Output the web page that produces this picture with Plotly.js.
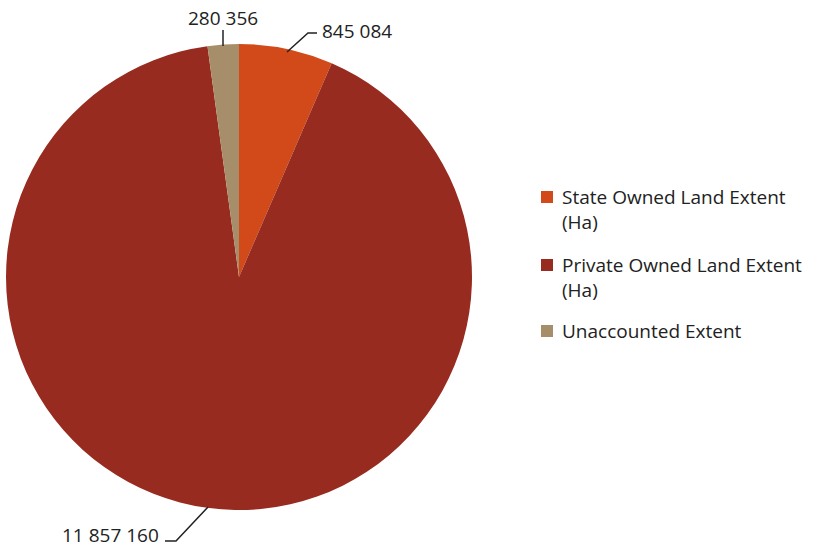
<!DOCTYPE html>
<html>
<head>
<meta charset="utf-8">
<script src="https://cdn.plot.ly/plotly-3.0.1.min.js"></script>
<style>html,body{margin:0;padding:0;background:#fff;}#chart{width:817px;height:547px;}</style>
</head>
<body>
<div id="chart"></div>
<script>
var categories = ["State Owned Land Extent<br>(Ha)", "Private Owned Land Extent<br>(Ha)", "Unaccounted Extent"];
var values = [845084, 11857160, 280356];
var colors = ["#D24A1A", "#982B1F", "#A78E6B"];

function fmt(v) {
  return String(v).replace(/\B(?=(\d{3})+(?!\d))/g, " ");
}

var W = 817, H = 547;
function px(x) { return x / W; }
function py(y) { return 1 - y / H; }

var font = {family: "Open Sans, Liberation Sans, sans-serif", size: 19, color: "#222"};

var annotations = [
  {x: px(223), y: py(18), text: fmt(values[2]), xanchor: "center", yanchor: "middle"},
  {x: px(320), y: py(31), text: fmt(values[0]), xanchor: "left", yanchor: "middle"},
  {x: px(161), y: py(535), text: fmt(values[1]), xanchor: "right", yanchor: "middle"}
].map(function (a) {
  return Object.assign({xref: "paper", yref: "paper", showarrow: false, font: font}, a);
});

function path(pts) {
  return "M " + pts.map(function (p) { return px(p[0]) + "," + py(p[1]); }).join(" L ");
}
var lineStyle = {color: "#222", width: 1.5};
var shapes = [
  {type: "path", xref: "paper", yref: "paper", path: path([[223, 30], [223, 46]]), line: lineStyle},
  {type: "path", xref: "paper", yref: "paper", path: path([[317, 33], [308, 33], [287, 52]]), line: lineStyle},
  {type: "path", xref: "paper", yref: "paper", path: path([[165, 541], [176, 541], [208, 507]]), line: lineStyle}
];

// custom legend (layout positions only)
var legendTop = [197, 265, 331];
var lineGap = 25;
categories.forEach(function (cat, i) {
  var y0 = legendTop[i];
  shapes.push({type: "rect", xref: "paper", yref: "paper",
    x0: px(541), x1: px(553), y0: py(y0 - 6), y1: py(y0 + 6),
    fillcolor: colors[i], line: {width: 0}});
  cat.split("<br>").forEach(function (ln, j) {
    annotations.push({xref: "paper", yref: "paper", showarrow: false, font: font,
      x: px(560), y: py(y0 + j * lineGap), xanchor: "left", yanchor: "middle", text: ln});
  });
});

var trace = {
  type: "pie",
  labels: categories,
  values: values,
  marker: {colors: colors, line: {width: 0}},
  sort: false,
  direction: "clockwise",
  rotation: 0,
  textinfo: "none",
  hoverinfo: "label+value",
  domain: {x: [px(6), px(472)], y: [py(510), py(44)]}
};

var layout = {
  width: W, height: H,
  margin: {l: 0, r: 0, t: 0, b: 0},
  paper_bgcolor: "#fff",
  showlegend: false,
  annotations: annotations,
  shapes: shapes
};

Plotly.newPlot("chart", [trace], layout, {displayModeBar: false, staticPlot: true});
</script>
</body>
</html>
